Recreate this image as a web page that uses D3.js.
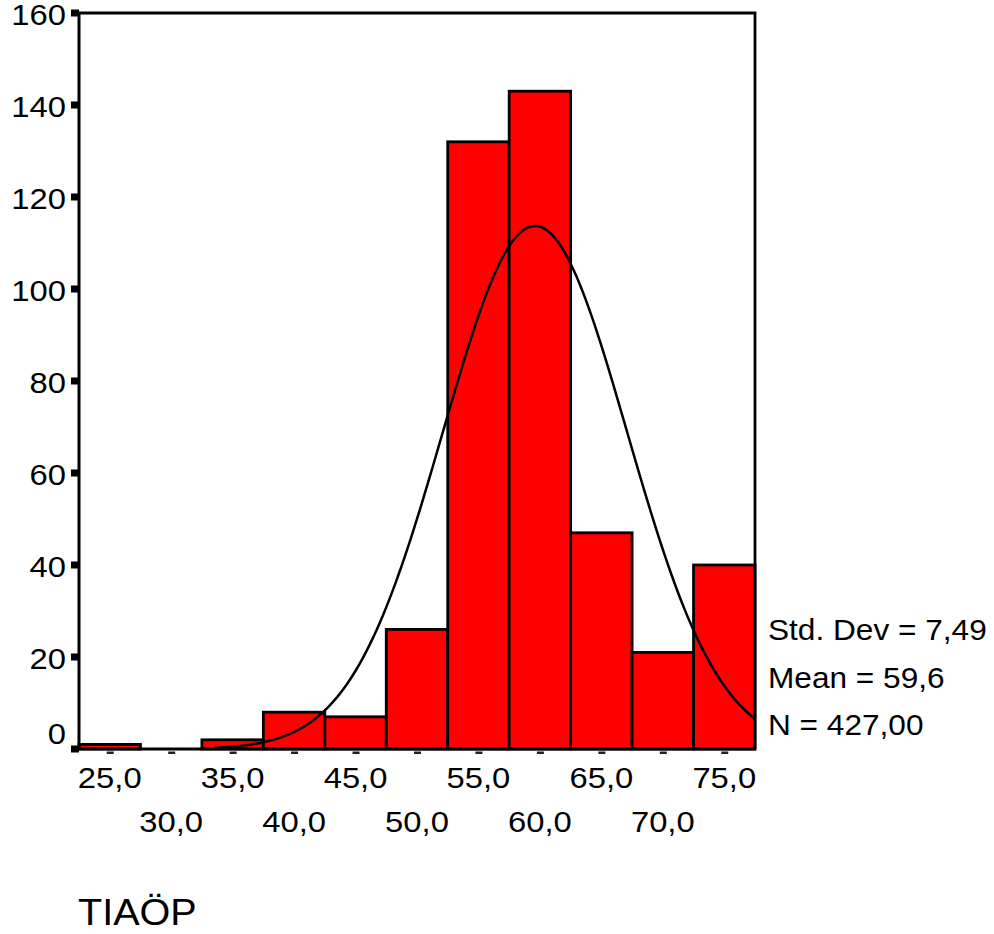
<!DOCTYPE html>
<html>
<head>
<meta charset="utf-8">
<script src="https://cdn.jsdelivr.net/npm/d3@7"></script>
<style>
  body { margin: 0; background: #fff; }
  text { font-family: "Liberation Sans", Arial, sans-serif; fill: #000; }
</style>
</head>
<body>
<div id="vis-div"></div>
<script>
'use strict'

// histogram bins (centre of each 5-wide bin) and counts
let binCenters = [25, 30, 35, 40, 45, 50, 55, 60, 65, 70, 75]
let binCounts = [1, 0, 2, 8, 7, 26, 132, 143, 47, 21, 40]
let binWidth = 5

let yTicks = [0, 20, 40, 60, 80, 100, 120, 140, 160]
let xLabelsTop = [25, 35, 45, 55, 65, 75]
let xLabelsBottom = [30, 40, 50, 60, 70]

// summary statistics printed at the right
let statMean = 59.6
let statSd = 7.49
let statN = 427
let statLines = ["Std. Dev = 7,49", "Mean = 59,6", "N = 427,00"]
let varName = "TIAÖP"

function wrapper(){

	let width = 994, height = 934
	let plot = {left: 79, right: 755, top: 13, bottom: 749}
	let sx = 1.13  // tick labels in the reference are a bit wider than plain Arial

	let fmt = function(v){ return d3.format(".1f")(v).replace(".", ",") }

	let x = d3.scaleLinear().domain([22.5, 77.5]).range([plot.left, plot.right])
	let y = d3.scaleLinear().domain([0, 160]).range([plot.bottom, plot.top])

	let svg = d3.select("#vis-div").append("svg")
		.attr("width", width)
		.attr("height", height)

	// bars
	svg.append("g").selectAll("rect")
		.data(binCenters)
		.join("rect")
		.attr("x", function(d){ return x(d - binWidth / 2) })
		.attr("width", function(d){ return x(d + binWidth / 2) - x(d - binWidth / 2) })
		.attr("y", function(d, i){ return y(binCounts[i]) })
		.attr("height", function(d, i){ return y(0) - y(binCounts[i]) })
		.attr("fill", "#ff0000")
		.attr("stroke", function(d, i){ return binCounts[i] > 0 ? "#000" : "none" })
		.attr("stroke-width", 2.8)

	// fitted normal curve from the printed mean / sd / N
	let peak = statN * binWidth / (statSd * Math.sqrt(2 * Math.PI))
	let curveX = d3.range(33.5, 77.5001, 0.25)
	let line = d3.line()
		.x(function(d){ return x(d) })
		.y(function(d){ return y(peak * Math.exp(-0.5 * Math.pow((d - statMean) / statSd, 2))) })
	svg.append("path")
		.datum(curveX)
		.attr("d", line)
		.attr("fill", "none")
		.attr("stroke", "#000")
		.attr("stroke-width", 2.5)

	// frame: top + right
	svg.append("path")
		.attr("d", "M" + plot.left + "," + plot.top + "H" + plot.right + "V" + plot.bottom)
		.attr("fill", "none")
		.attr("stroke", "#000")
		.attr("stroke-width", 2.8)

	// axes lines
	svg.append("line")
		.attr("x1", plot.left).attr("x2", plot.left)
		.attr("y1", plot.top).attr("y2", plot.bottom + 1)
		.attr("stroke", "#000").attr("stroke-width", 3)
	svg.append("line")
		.attr("x1", plot.left).attr("x2", plot.right + 1)
		.attr("y1", plot.bottom).attr("y2", plot.bottom)
		.attr("stroke", "#000").attr("stroke-width", 3)

	// y ticks: small black squares left of the axis
	let yg = svg.append("g")
	yg.selectAll("rect")
		.data(yTicks)
		.join("rect")
		.attr("x", plot.left - 8)
		.attr("y", function(d){ return y(d) - 3.5 })
		.attr("width", 8)
		.attr("height", 7)
		.attr("fill", "#000")
	yg.selectAll("text")
		.data(yTicks)
		.join("text")
		.attr("text-anchor", "end")
		.attr("font-size", 29)
		.attr("transform", function(d){
			let off = d == 0 ? -5 : 12
			return "translate(66," + (y(d) + off) + ") scale(" + sx + ",1)"
		})
		.text(function(d){ return d })

	// x ticks: small dashes under the axis at bin centres
	let xg = svg.append("g")
	xg.selectAll("rect")
		.data(binCenters)
		.join("rect")
		.attr("x", function(d){ return x(d) - 3 })
		.attr("y", plot.bottom + 2.5)
		.attr("width", 7)
		.attr("height", 2.5)
		.attr("fill", "#222")
	xg.selectAll("text.top")
		.data(xLabelsTop)
		.join("text")
		.attr("class", "top")
		.attr("text-anchor", "middle")
		.attr("font-size", 29)
		.attr("transform", function(d){ return "translate(" + x(d) + ",788) scale(" + sx + ",1)" })
		.text(fmt)
	xg.selectAll("text.bottom")
		.data(xLabelsBottom)
		.join("text")
		.attr("class", "bottom")
		.attr("text-anchor", "middle")
		.attr("font-size", 29)
		.attr("transform", function(d){ return "translate(" + x(d) + ",832) scale(" + sx + ",1)" })
		.text(fmt)

	// stats block
	svg.append("g").selectAll("text")
		.data(statLines)
		.join("text")
		.attr("font-size", 29)
		.attr("transform", function(d, i){ return "translate(768," + (640 + i * 47.5) + ") scale(1.09,1)" })
		.text(function(d){ return d })

	// variable name
	svg.append("text")
		.attr("font-size", 37)
		.attr("transform", "translate(78,925) scale(1.07,1)")
		.text(varName)
}

wrapper();
</script>
</body>
</html>
